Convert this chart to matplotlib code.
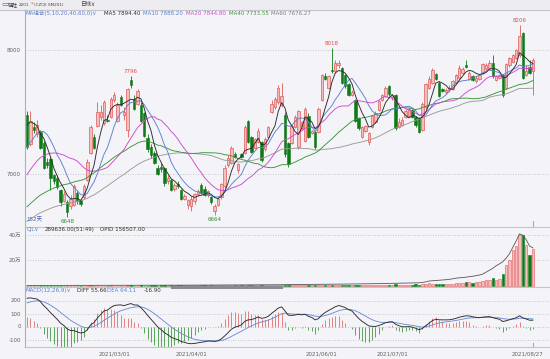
import numpy as np
import pandas as pd
import matplotlib
matplotlib.use("Agg")
import matplotlib.pyplot as plt
import matplotlib.transforms as mtransforms
from matplotlib.lines import Line2D
from matplotlib.patches import Rectangle

plt.rcParams['font.family'] = ['DejaVu Sans', 'Noto Sans CJK SC']

W, H = 550, 359
BG = '#F4F4F8'
RED = '#E05A5A'
RED_FACE = '#F6BDBD'
GREEN = '#0E7A16'

# daily bars of SM201, 152 trading days up to 2021/08/27
opens = [7480, 7240, 7380, 7320, 7340, 7250, 7100, 7120, 6990, 6970,
         6870, 6780, 6770, 6740, 6750, 6850, 6790, 6810, 6950, 7170,
         7300, 7390, 7460, 7410, 7440, 7460, 7600, 7430, 7620, 7480,
         7360, 7760, 7610, 7570, 7560, 7490, 7290, 7220, 7170, 7050,
         7060, 7050, 6940, 6950, 6880, 6920, 6870, 6800, 6750, 6740,
         6780, 6840, 6910, 6880, 6830, 6810, 6700, 6750, 6810, 6900,
         7070, 7090, 7160, 7030, 7160, 7170, 7430, 7300, 7210, 7260,
         7260, 7200, 7300, 7500, 7540, 7580, 7560, 7480, 7250, 7250,
         7380, 7220, 7370, 7270, 7470, 7330, 7340, 7340, 7600, 7790,
         7700, 7840, 7830, 7880, 7860, 7800, 7730, 7640, 7600, 7450,
         7300, 7350, 7260, 7380, 7420, 7520, 7600, 7630, 7710, 7620,
         7640, 7380, 7400, 7460, 7470, 7520, 7460, 7450, 7360, 7540,
         7700, 7740, 7810, 7740, 7690, 7660, 7680, 7690, 7740, 7780,
         7820, 7880, 7770, 7790, 7750, 7770, 7820, 7850, 7860, 7900,
         7760, 7780, 7800, 7700, 7880, 7910, 7940, 7960, 8140, 7800,
         7870, 7830]
highs = [7510, 7510, 7420, 7440, 7360, 7270, 7130, 7140, 7000, 6990,
         6880, 6860, 6790, 6830, 6920, 6860, 6800, 6920, 7120, 7400,
         7320, 7580, 7560, 7600, 7480, 7620, 7660, 7580, 7640, 7540,
         7700, 7796, 7640, 7690, 7580, 7500, 7320, 7240, 7190, 7070,
         7090, 7060, 6990, 6960, 6930, 6940, 6880, 6840, 6800, 6820,
         6850, 6880, 6930, 6900, 6870, 6820, 6760, 6810, 6930, 7070,
         7150, 7230, 7180, 7090, 7170, 7400, 7440, 7310, 7290, 7370,
         7270, 7300, 7390, 7600, 7620, 7720, 7740, 7500, 7260, 7400,
         7480, 7520, 7430, 7540, 7490, 7360, 7360, 7540, 7810, 7820,
         7800, 8018, 7920, 7920, 7870, 7810, 7740, 7680, 7610, 7460,
         7390, 7400, 7340, 7480, 7510, 7600, 7650, 7710, 7720, 7650,
         7650, 7450, 7460, 7530, 7540, 7530, 7470, 7460, 7580, 7740,
         7790, 7860, 7820, 7750, 7700, 7700, 7720, 7760, 7810, 7880,
         7870, 7920, 7830, 7800, 7800, 7810, 7900, 7900, 7920, 7960,
         7800, 7810, 7810, 7900, 7950, 7970, 8010, 8206, 8150, 7880,
         7920, 7940]
lows = [7200, 7230, 7330, 7300, 7200, 7040, 7050, 6870, 6920, 6880,
        6740, 6770, 6648, 6720, 6740, 6760, 6740, 6800, 6940, 7160,
        7200, 7380, 7440, 7400, 7420, 7450, 7580, 7420, 7550, 7440,
        7300, 7700, 7520, 7560, 7420, 7300, 7180, 7130, 7080, 6990,
        7020, 6900, 6920, 6860, 6860, 6890, 6790, 6790, 6720, 6700,
        6760, 6820, 6840, 6820, 6810, 6760, 6664, 6740, 6800, 6890,
        7060, 7080, 7130, 7010, 7130, 7160, 7250, 7170, 7200, 7250,
        7100, 7190, 7290, 7490, 7530, 7570, 7540, 7140, 7060, 7240,
        7370, 7200, 7360, 7260, 7290, 7320, 7200, 7330, 7590, 7760,
        7690, 7820, 7820, 7860, 7730, 7700, 7630, 7630, 7420, 7360,
        7290, 7340, 7234, 7370, 7410, 7510, 7590, 7620, 7630, 7600,
        7360, 7370, 7390, 7450, 7460, 7450, 7380, 7330, 7350, 7530,
        7690, 7730, 7760, 7620, 7660, 7650, 7660, 7680, 7730, 7770,
        7810, 7860, 7760, 7750, 7740, 7760, 7810, 7840, 7850, 7780,
        7750, 7770, 7620, 7690, 7870, 7900, 7930, 7950, 7770, 7790,
        7810, 7640]
closes = [7220, 7430, 7360, 7400, 7210, 7050, 7070, 6970, 6940, 6895,
          6770, 6840, 6690, 6800, 6900, 6780, 6760, 6900, 7100, 7380,
          7210, 7500, 7500, 7580, 7430, 7610, 7640, 7560, 7560, 7500,
          7690, 7720, 7530, 7670, 7430, 7310, 7200, 7150, 7090, 7000,
          7040, 6930, 6970, 6870, 6910, 6900, 6800, 6820, 6790, 6800,
          6840, 6860, 6850, 6830, 6860, 6770, 6740, 6800, 6920, 7050,
          7130, 7210, 7140, 7080, 7140, 7380, 7260, 7180, 7280, 7350,
          7110, 7280, 7380, 7570, 7610, 7700, 7630, 7160, 7080, 7390,
          7460, 7510, 7420, 7530, 7300, 7350, 7220, 7530, 7800, 7770,
          7790, 7830, 7900, 7900, 7740, 7710, 7640, 7660, 7430, 7370,
          7380, 7390, 7330, 7470, 7490, 7590, 7640, 7700, 7650, 7640,
          7370, 7420, 7440, 7510, 7530, 7460, 7400, 7340, 7570, 7730,
          7770, 7840, 7770, 7630, 7670, 7680, 7700, 7750, 7800, 7860,
          7850, 7870, 7820, 7760, 7780, 7800, 7890, 7880, 7900, 7790,
          7790, 7800, 7640, 7890, 7940, 7960, 8000, 8120, 7780, 7830,
          7820, 7920]

# closes before the first visible bar, estimated from where the MA lines start
prior_closes = [6280, 6300, 6260, 6310, 6330, 6300, 6350, 6340, 6380, 6360,
                6400, 6390, 6420, 6410, 6440, 6430, 6460, 6450, 6480, 6470,
                6420, 6400, 6380, 6410, 6430, 6450, 6420, 6460, 6480, 6450,
                6470, 6500, 6490, 6520, 6510, 6530, 6550, 6520, 6540, 6560,
                6600, 6650, 6700, 6680, 6750, 6800, 6850, 6880, 6920, 6950,
                6980, 7000, 7020, 7050, 7080, 7300, 7420, 7500, 7540]

# volume (10k lots) and the overlay line of the CJL panel
volume = [0.05, 0.04, 0.03, 0.05, 0.06, 0.04, 0.03, 0.05, 0.04, 0.06,
          0.05, 0.04, 0.07, 0.05, 0.04, 0.06, 0.05, 0.04, 0.06, 0.08,
          0.06, 0.05, 0.07, 0.05, 0.06, 0.08, 0.07, 0.06, 0.05, 0.07,
          0.09, 0.08, 0.06, 0.07, 0.08, 0.06, 0.07, 0.09, 0.08, 0.07,
          0.08, 0.10, 0.09, 0.08, 0.10, 0.09, 0.11, 0.10, 0.09, 0.12,
          0.10, 0.11, 0.13, 0.12, 0.10, 0.12, 0.14, 0.13, 0.12, 0.15,
          0.14, 0.16, 0.13, 0.15, 0.17, 0.20, 0.18, 0.16, 0.19, 0.20,
          0.22, 0.20, 0.21, 0.24, 0.22, 0.25, 0.30, 0.50, 0.28, 0.30,
          0.32, 0.30, 0.35, 0.33, 0.36, 0.34, 0.38, 0.40, 0.37, 0.45,
          0.42, 0.48, 0.44, 0.50, 0.46, 0.50, 0.48, 0.52, 0.50, 0.55,
          0.50, 0.60, 0.55, 0.58, 0.62, 0.60, 0.65, 0.70, 0.68, 0.72,
          1.10, 0.70, 0.80, 0.78, 0.85, 0.80, 0.90, 0.85, 1.20, 1.60,
          1.80, 1.50, 1.40, 1.20, 1.10, 1.00, 1.30, 1.50, 1.70, 2.20,
          2.00, 2.50, 2.80, 2.40, 3.00, 2.60, 3.50, 4.00, 4.20, 6.30,
          4.50, 5.00, 9.00, 16.0, 20.0, 28.0, 31.0, 40.0, 40.0, 32.0,
          24.0, 28.9636]
oi_line = [0.10, 0.10, 0.11, 0.11, 0.12, 0.12, 0.12, 0.13, 0.13, 0.14,
           0.14, 0.15, 0.15, 0.16, 0.16, 0.17, 0.17, 0.18, 0.18, 0.19,
           0.19, 0.20, 0.20, 0.21, 0.21, 0.22, 0.22, 0.23, 0.23, 0.24,
           0.24, 0.25, 0.25, 0.26, 0.26, 0.27, 0.27, 0.28, 0.28, 0.29,
           0.30, 0.30, 0.31, 0.32, 0.32, 0.33, 0.34, 0.34, 0.35, 0.36,
           0.36, 0.37, 0.38, 0.38, 0.39, 0.40, 0.40, 0.41, 0.42, 0.42,
           0.43, 0.44, 0.45, 0.46, 0.47, 0.48, 0.50, 0.52, 0.53, 0.55,
           0.56, 0.58, 0.60, 0.62, 0.63, 0.65, 0.68, 0.75, 0.78, 0.80,
           0.82, 0.85, 0.88, 0.90, 0.93, 0.95, 0.98, 1.00, 1.02, 1.05,
           1.08, 1.10, 1.12, 1.15, 1.18, 1.20, 1.22, 1.25, 1.28, 1.30,
           1.32, 1.35, 1.40, 1.45, 1.50, 1.55, 1.60, 1.65, 1.70, 1.75,
           1.85, 1.90, 1.95, 2.00, 2.05, 2.10, 2.15, 2.20, 2.50, 2.90,
           3.60, 3.80, 4.00, 4.20, 4.40, 4.60, 4.90, 5.30, 5.80, 6.10,
           6.30, 6.60, 7.00, 7.30, 7.80, 8.30, 9.00, 10.5, 12.0, 13.5,
           15.5, 17.0, 18.7, 21.5, 25.0, 30.0, 35.0, 40.6, 39.5, 36.0,
           31.0, 29.6]

date_ticks = [26, 49, 88, 109, 151]
date_labels = ['2021/03/01', '2021/04/01', '2021/06/01', '2021/07/01', '2021/08/27']
high_marks = [31, 91, 147]
low_marks = [12, 56]

o = np.array(opens, float)
h = np.array(highs, float)
l = np.array(lows, float)
c = np.array(closes, float)
n = len(c)
x = np.arange(n)
up = c >= o

allc = pd.Series(prior_closes + closes, dtype=float)
ma = {p: allc.rolling(p, min_periods=1).mean().values[-n:] for p in (5, 10, 20, 40, 60)}
ema12 = allc.ewm(span=12, adjust=False).mean()
ema26 = allc.ewm(span=26, adjust=False).mean()
diff = ema12 - ema26
dea = diff.ewm(span=9, adjust=False).mean()
hist = (2 * (diff - dea)).values[-n:]
diff = diff.values[-n:]
dea = dea.values[-n:]

fig = plt.figure(figsize=(W / 100, H / 100), dpi=100, facecolor=BG)


def panel(x0, y0, x1, y1):
    ax = fig.add_axes([x0 / W, 1 - y1 / H, (x1 - x0) / W, (y1 - y0) / H])
    ax.set_facecolor(BG)
    for s in ax.spines.values():
        s.set_visible(False)
    ax.tick_params(length=0, labelsize=4, colors='#606060', pad=3)
    ax.set_xticks([])
    ax.set_xlim(-0.6, 156.1)
    ax.yaxis.grid(True, ls=(0, (1, 2)), color='#B8B8C0', lw=0.6)
    ax.set_axisbelow(True)
    return ax


def ftext(px, py, s, color='#404040', size=4, **kw):
    fig.text(px / W, 1 - py / H, s, color=color, fontsize=size, va='center', **kw)


def price_at(py):
    return 8000 - (py - 50.5) * 1000 / 123.5


# main candle panel
ax = panel(25, 10, 550, 226.5)
ax.set_ylim(price_at(226.5), price_at(10))
ax.set_yticks([7000, 8000])
ax.set_yticklabels(['7000', '8000'])
ax.vlines(x[up], l[up], h[up], color=RED, lw=0.6, zorder=3)
ax.vlines(x[~up], l[~up], h[~up], color=GREEN, lw=0.6, zorder=3)
lo_b = np.minimum(o, c)
hb = np.maximum(np.abs(c - o), 5)
ax.bar(x[up], hb[up], bottom=lo_b[up], width=0.72, color=RED_FACE,
       edgecolor=RED, lw=0.5, zorder=4)
ax.bar(x[~up], hb[~up], bottom=lo_b[~up], width=0.72, color=GREEN,
       edgecolor=GREEN, lw=0.4, zorder=4)
ma_colors = {5: '#2B2B2B', 10: '#5B7FD0', 20: '#D048D0', 40: '#3A963A', 60: '#9A9A9A'}
for p in (60, 40, 20, 10, 5):
    ax.plot(x, ma[p], color=ma_colors[p], lw=0.65, zorder=5)
for i in high_marks:
    ax.annotate(f'{h[i]:.0f}', (x[i], h[i]), xytext=(0, 1.5), textcoords='offset points',
                ha='center', va='bottom', fontsize=4, color='#E04848')
for i in low_marks:
    ax.annotate(f'{l[i]:.0f}', (x[i], l[i]), xytext=(0, -1), textcoords='offset points',
                ha='center', va='top', fontsize=4, color='#2E8B2E')
ax.plot([x[-1], x[-1]], [0, 0.025], color='#909090', lw=0.6,
        transform=mtransforms.blended_transform_factory(ax.transData, ax.transAxes))

# volume panel
av = panel(25, 226.5, 550, 287)
av.set_ylim(-11000, 463500)
av.set_yticks([200000, 400000])
av.set_yticklabels(['20万', '40万'])
v = np.array(volume) * 10000
av.bar(x[up], v[up], width=0.72, color=RED_FACE, edgecolor=RED, lw=0.4, zorder=3)
av.bar(x[~up], v[~up], width=0.72, color=GREEN, edgecolor=GREEN, lw=0.4, zorder=3)
av.plot(x, np.array(oi_line) * 10000, color='#555555', lw=0.6, zorder=4)

# MACD panel
am = panel(25, 287, 550, 347)
zero_y, per100 = 326.5, 13.0
am.set_ylim((zero_y - 347) / per100 * 100, (zero_y - 287) / per100 * 100)
am.set_yticks([-100, 0, 100, 200])
am.set_yticklabels(['-100', '0', '100', '200'])
am.vlines(x[hist >= 0], 0, hist[hist >= 0], color='#E58080', lw=0.7, zorder=3)
am.vlines(x[hist < 0], 0, hist[hist < 0], color='#5AA65A', lw=0.7, zorder=3)
am.plot(x, dea, color='#6A8ED8', lw=0.65, zorder=4)
am.plot(x, diff, color='#2B2B2B', lw=0.65, zorder=4)
am.plot([x[-1], x[-1]], [0, 0.06], color='#909090', lw=0.6,
        transform=mtransforms.blended_transform_factory(am.transData, am.transAxes))

for xi, lab in zip(date_ticks, date_labels):
    px = 25 + (xi + 0.6) / 156.7 * 525
    ftext(min(px, 548 - 20), 353.5, lab, color='#606060', ha='center')

# frame lines and toolbar strip
fig.patches.append(Rectangle((0, 1 - 9.5 / H), 1, 9.5 / H, transform=fig.transFigure,
                             facecolor='#EDEDF1', edgecolor='none', zorder=0))
for y in (9.5, 226.5, 286.5, 347):
    fig.lines.append(Line2D([25 / W if y > 10 else 0, 1], [1 - y / H] * 2,
                            transform=fig.transFigure, color='#C4C4CC', lw=0.8))
fig.lines.append(Line2D([25 / W] * 2, [1 - 9.5 / H, 1 - 347 / H],
                        transform=fig.transFigure, color='#B0B0B8', lw=0.8))
fig.lines.append(Line2D([172 / W, 281 / W], [1 - 286.5 / H] * 2,
                        transform=fig.transFigure, color='#8A8A90', lw=2.2))

ftext(1, 4.8, '⊂⊃', color='#606060', size=3.5)
ftext(8, 4.8, '锰硅', color='#404040', size=3.6)
ftext(19, 4.8, '2201', color='#404040', size=3.0)
ftext(30.5, 4.0, '*', color='#E04848', size=3.5)
ftext(34, 4.8, '(CZCE SM201)', color='#404040', size=3.0)
ftext(80, 4.8, '日线∨', color='#404040', size=4.0)

ftext(26, 13.5, 'MA组合(5,10,20,40,60,0)∨', color='#5B7FD0')
ftext(104, 13.5, 'MA5 7894.40', color='#303030')
ftext(143, 13.5, 'MA10 7888.20', color='#5B7FD0')
ftext(186, 13.5, 'MA20 7844.80', color='#D048D0')
ftext(229, 13.5, 'MA40 7733.55', color='#3A963A')
ftext(271, 13.5, 'MA60 7676.27', color='#808080')
ftext(26, 220, '152天', color='#4060B0')

ftext(27, 229.5, 'CJL∨', color='#5B7FD0')
ftext(45, 229.5, '289636.00(51:49)', color='#303030')
ftext(100, 229.5, 'OPID 156507.00', color='#303030')

ftext(26, 290.5, 'MACD(12,26,9)∨', color='#5B7FD0')
ftext(77, 290.5, 'DIFF 55.66', color='#303030')
ftext(107, 290.5, 'DEA 64.11', color='#5B7FD0')
ftext(144, 290.5, '-16.90', color='#303030')

fig.savefig('out.png', dpi=100, facecolor=BG)
